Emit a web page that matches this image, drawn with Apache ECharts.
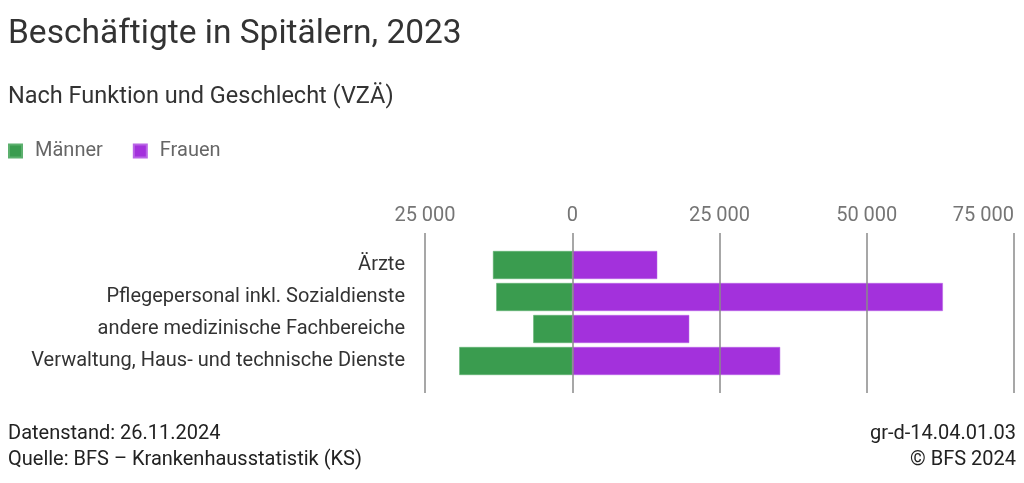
<!DOCTYPE html>
<html>
<head>
<meta charset="utf-8">
<script src="https://cdn.jsdelivr.net/npm/echarts@6/dist/echarts.min.js"></script>
<style>
  html, body { margin: 0; padding: 0; background: #fff; }
  #chart { width: 1024px; height: 483px; }
</style>
</head>
<body>
<div id="chart"></div>
<script>
var categories = ['Ärzte', 'Pflegepersonal inkl. Sozialdienste', 'andere medizinische Fachbereiche', 'Verwaltung, Haus- und technische Dienste'];
var maenner = [-13460, -12900, -6620, -19180];
var frauen = [14430, 62920, 19860, 35300];

var font = 'Roboto, "Noto Sans", sans-serif';

function fmt(v) {
    return String(Math.abs(v)).replace(/\B(?=(\d{3})+(?!\d))/g, ' ');
}

function note(text, pos) {
    var t = { text: text, top: pos.top, padding: 0,
        textStyle: { fontSize: 20, fontWeight: 'normal', color: '#222', fontFamily: font } };
    if (pos.right != null) t.right = pos.right; else t.left = pos.left;
    return t;
}

var myChart = echarts.init(document.getElementById('chart'));
myChart.setOption({
    backgroundColor: '#fff',
    textStyle: { fontFamily: font },
    title: [{
        text: 'Beschäftigte in Spitälern, 2023',
        left: 8, top: 18, padding: 0,
        textStyle: { fontSize: 33.5, fontWeight: 'normal', color: '#333', fontFamily: font }
    }, {
        text: 'Nach Funktion und Geschlecht (VZÄ)',
        left: 8, top: 85, padding: 0,
        textStyle: { fontSize: 23.5, fontWeight: 'normal', color: '#333', fontFamily: font }
    },
        note('Datenstand: 26.11.2024', { left: 8, top: 424 }),
        note('Quelle: BFS – Krankenhausstatistik (KS)', { left: 8, top: 450 }),
        note('gr-d-14.04.01.03', { right: 8, top: 424 }),
        note('© BFS 2024', { right: 8, top: 450 })
    ],
    legend: {
        left: 8, top: 141, padding: 0,
        itemWidth: 13, itemHeight: 13,
        itemGap: 30,
        icon: 'rect',
        textStyle: { fontSize: 20, color: '#666', fontFamily: font, padding: [0, 0, 0, 8] },
        data: ['Männer', 'Frauen']
    },
    grid: [
        { left: 425, right: 10, top: 233, bottom: 90, outerBoundsMode: 'none', containLabel: false },
        { left: 425, right: 10, top: 249, bottom: 106, outerBoundsMode: 'none', containLabel: false }
    ],
    xAxis: [{
        gridIndex: 0,
        type: 'value',
        position: 'top',
        min: -25000, max: 75000, interval: 25000,
        z: 10,
        axisLine: { show: false },
        axisTick: { show: false },
        axisLabel: { fontSize: 20, color: '#757575', margin: 7, formatter: fmt, fontFamily: font, alignMaxLabel: 'right' },
        splitLine: { show: true, lineStyle: { color: '#8a8a8a', width: 1.5 } }
    }, {
        gridIndex: 1,
        type: 'value',
        min: -25000, max: 75000, interval: 25000,
        show: false,
        splitLine: { show: false }
    }],
    yAxis: [{
        gridIndex: 0,
        type: 'category',
        show: false,
        data: categories
    }, {
        gridIndex: 1,
        type: 'category',
        inverse: true,
        data: categories,
        axisLine: { show: false },
        axisTick: { show: false },
        axisLabel: { fontSize: 20, color: '#333', margin: 20, fontFamily: font }
    }],
    series: [{
        name: 'Männer',
        type: 'bar',
        xAxisIndex: 1, yAxisIndex: 1,
        stack: 'total',
        barWidth: 28,
        itemStyle: { color: '#3a9c4f', borderColor: '#5cb06e', borderWidth: 0.5 },
        data: maenner
    }, {
        name: 'Frauen',
        type: 'bar',
        xAxisIndex: 1, yAxisIndex: 1,
        stack: 'total',
        barWidth: 28,
        itemStyle: { color: '#a331dc', borderColor: '#b965e6', borderWidth: 0.5 },
        data: frauen
    }]
});
</script>
</body>
</html>
